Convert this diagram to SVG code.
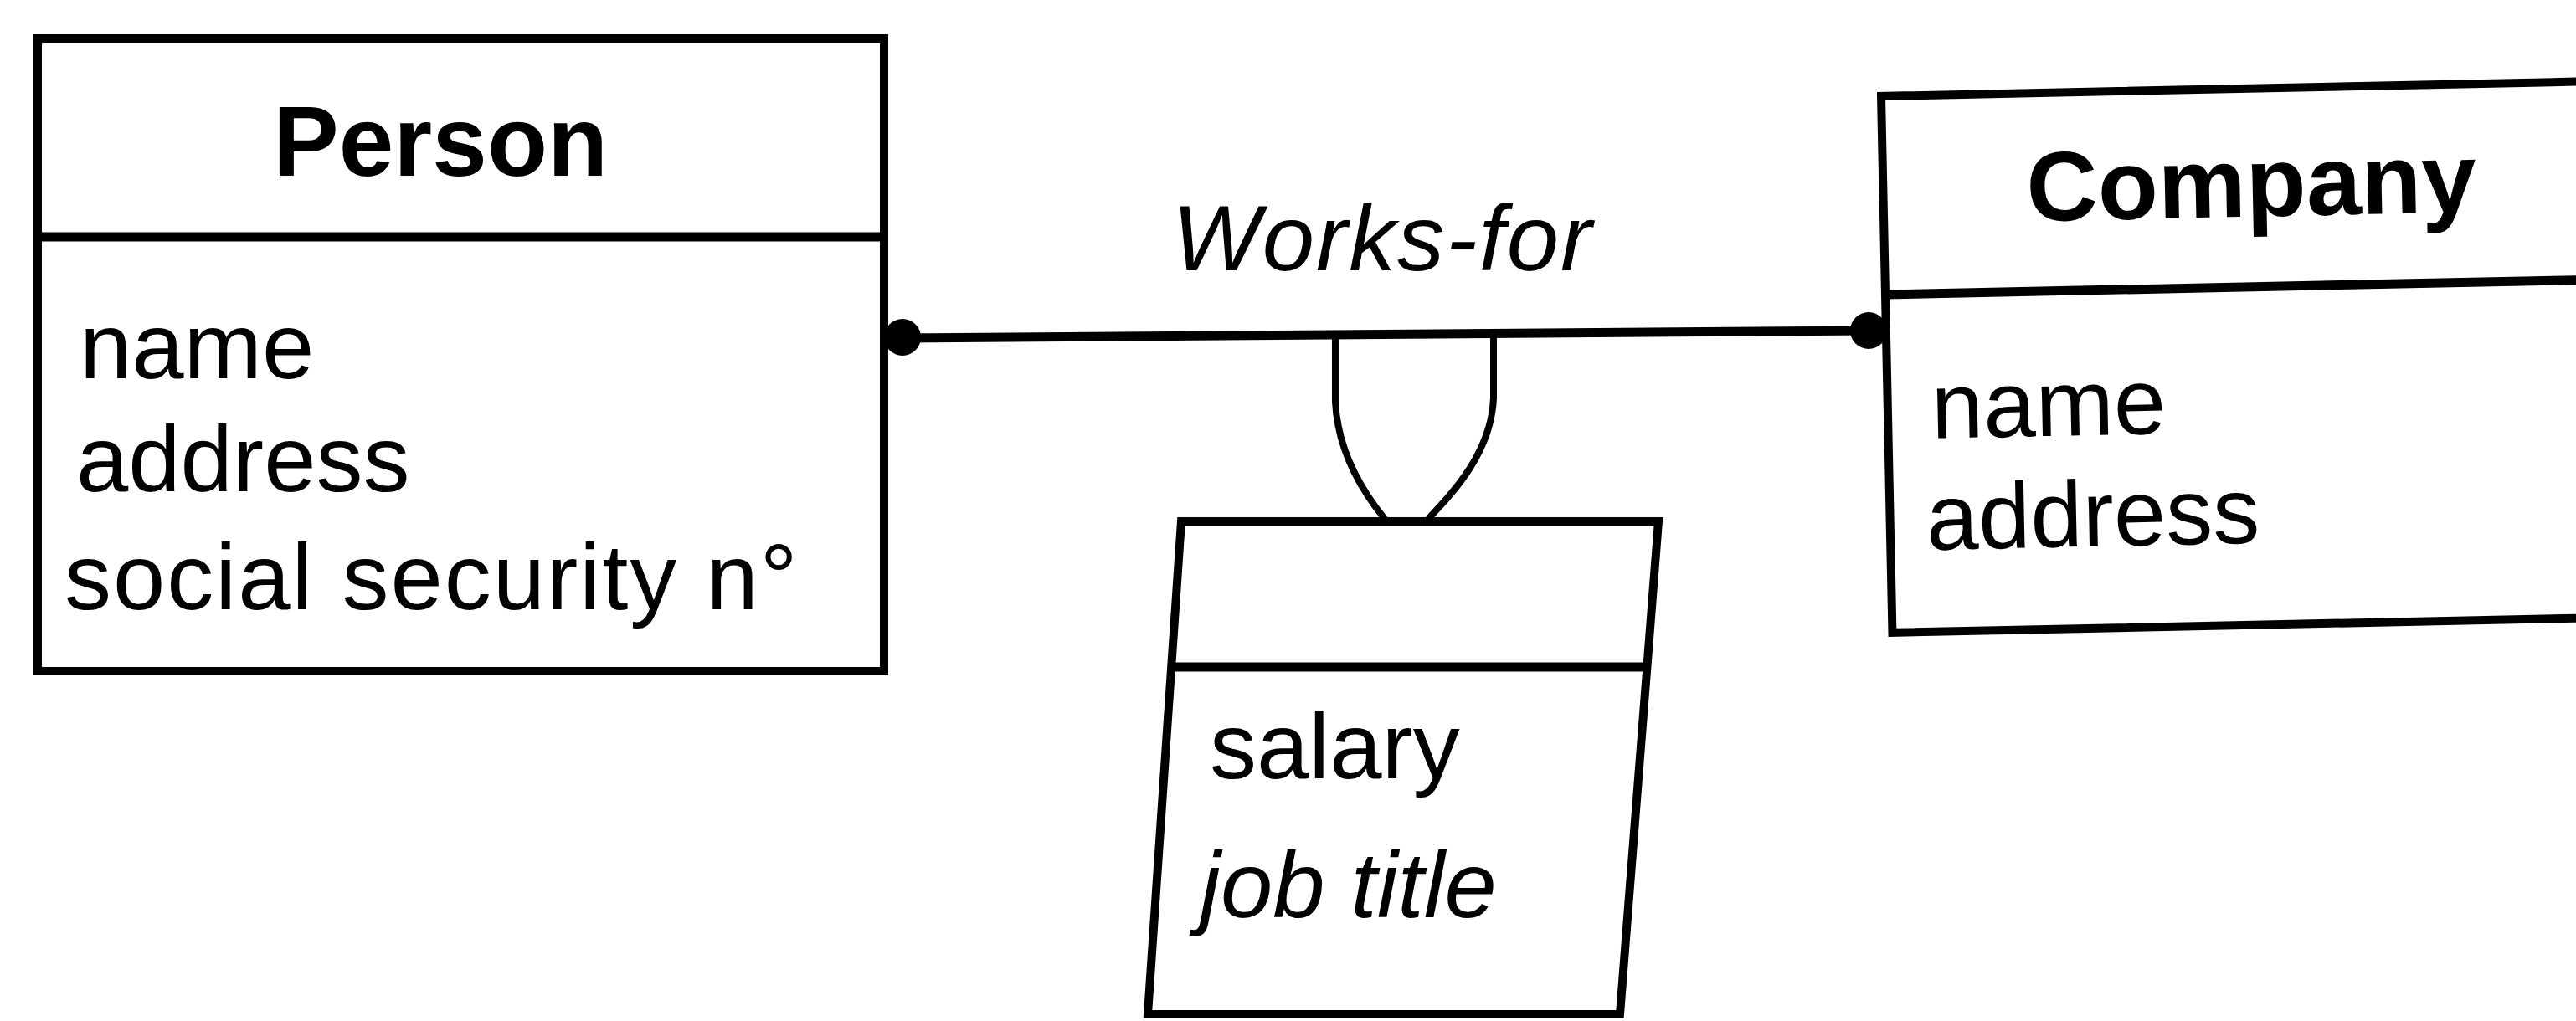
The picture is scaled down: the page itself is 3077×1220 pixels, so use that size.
<svg xmlns="http://www.w3.org/2000/svg" width="3077" height="1220" viewBox="0 0 3077 1220">
<style>
.box{fill:#fff;stroke:#000;stroke-width:10;stroke-linejoin:miter}
.div{stroke:#000;stroke-width:11;fill:none}
.conn{stroke:#000;stroke-width:11;fill:none}
.loop{stroke:#000;stroke-width:8;fill:none}
.title{font-family:"Liberation Sans",Arial,sans-serif;font-weight:bold;font-size:118px;fill:#000}
.attr{font-family:"Liberation Sans",Arial,sans-serif;font-size:112px;fill:#000}
.it{font-style:italic}
</style>
<rect width="3077" height="1220" fill="#fff"/>
<g id="connectors">
<line class="conn" x1="1080" y1="404" x2="2232" y2="395"/>
<circle cx="1078" cy="403" r="22" fill="#000"/>
<circle cx="2232" cy="395" r="22" fill="#000"/>
<path class="loop" d="M1595 402 L1595 480 C1598 540 1628 588 1654 620"/>
<path class="loop" d="M1784 400 L1784 476 C1781 540 1738 586 1706 620"/>
<text class="attr it" x="1400" y="323" font-size="119" letter-spacing="2">Works-for</text>
</g>
<g id="person">
<rect class="box" x="45" y="46" width="1011" height="756"/>
<line class="div" x1="45" y1="283" x2="1056" y2="283"/>
<text class="title" x="326" y="210">Person</text>
<text class="attr" x="95" y="452">name</text>
<text class="attr" x="91" y="587">address</text>
<text class="attr" x="77" y="728" letter-spacing="2">social security n°</text>
</g>
<g id="company" transform="rotate(-1.2 2246 114)">
<rect class="box" x="2247" y="115" width="1000" height="641"/>
<line class="div" x1="2247" y1="352" x2="3247" y2="352"/>
<text class="title" x="2418" y="268">Company</text>
<text class="attr" x="2299" y="525">name</text>
<text class="attr" x="2290" y="658">address</text>
</g>
<g id="works-for-class">
<polygon class="box" points="1411,623 1981,623 1935,1212 1371,1212"/>
<line class="div" x1="1400" y1="797" x2="1968" y2="797"/>
<text class="attr" x="1445" y="930">salary</text>
<text class="attr it" x="1433" y="1096" font-size="116">job title</text>
</g>
</svg>
